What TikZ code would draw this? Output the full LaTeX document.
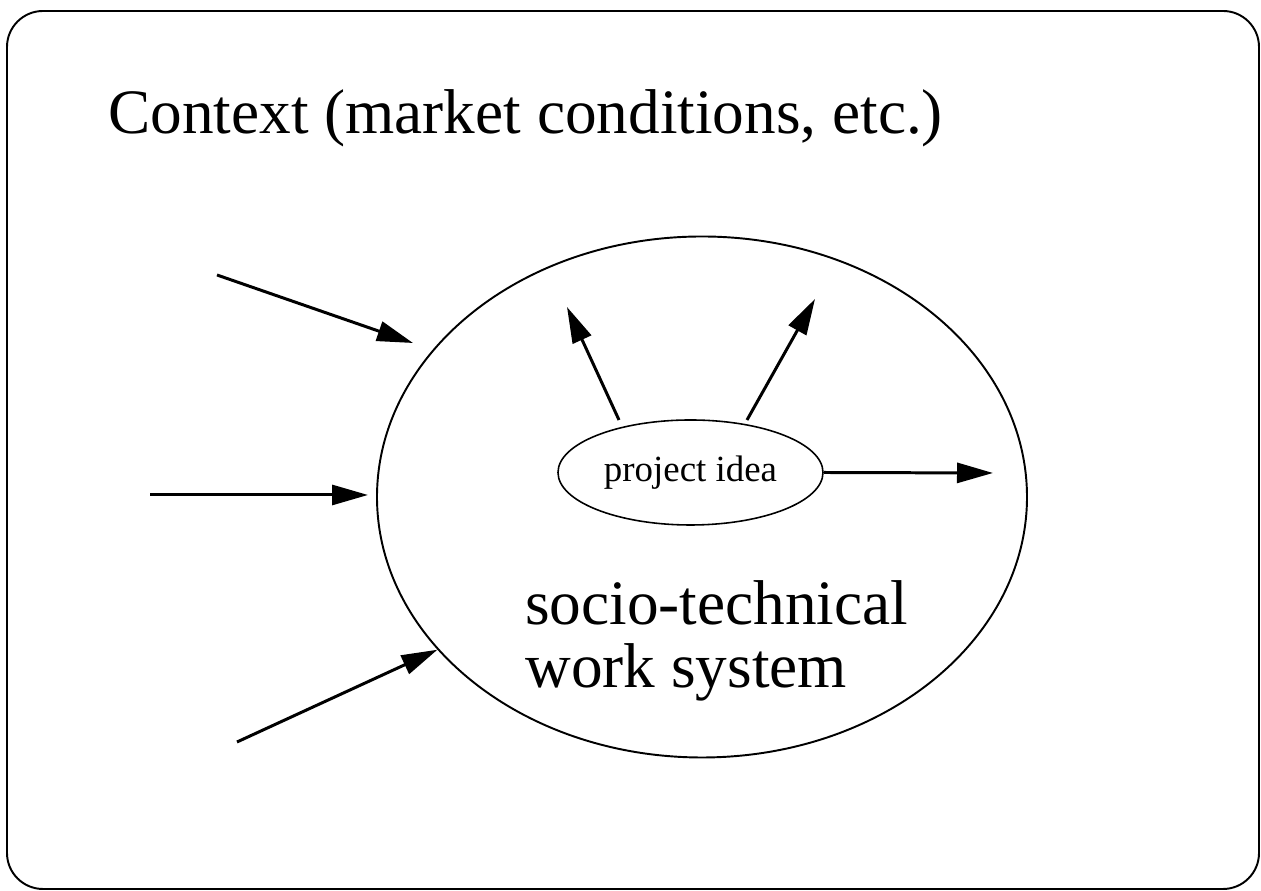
\documentclass[tikz,border=0pt]{standalone}
\usepackage{fontspec}
\setmainfont{Liberation Serif}
\usetikzlibrary{arrows.meta,shapes.geometric}
\begin{document}
\begin{tikzpicture}[
  arr/.style={line width=1.7pt,-{Triangle[length=0.72cm,width=0.4cm]}},
  blob/.style={draw,ellipse,inner sep=0pt}]
 \useasboundingbox (0,0) rectangle (25.22,17.82);
 \draw[line width=1.1pt,rounded corners=0.72cm] (0.14,0.04) rectangle (25.18,17.6);

 \node (ctx)[anchor=base west,inner sep=0pt,font=\fontsize{36}{40}\selectfont] at (2.16,15.14) {Context (market conditions, etc.)};
 \node (sys)[blob,line width=1.1pt,minimum width=13cm,minimum height=10.42cm] at (14.04,7.88) {};
 \node (idea)[blob,line width=0.9pt,minimum width=5.3cm,minimum height=2.1cm,font=\fontsize{21}{25}\selectfont] at (13.81,8.37) {project idea\hspace{0.2cm}};
 \node (name)[anchor=base west,align=left,inner sep=0pt,font=\fontsize{36}{35.85}\selectfont] at (10.5,4.06) {socio-technical\\work system};

 % influences from the context
 \coordinate (in1) at (4.34,12.32);
 \coordinate (hit1) at (8.26,10.96);
 \coordinate (in2) at (3.0,7.92);
 \coordinate (hit2) at (7.36,7.92);
 \coordinate (in3) at (4.74,2.98);
 \draw[arr] (in1) -- (hit1);
 \draw[arr] (in2) -- (hit2);
 \draw[arr] (in3) -- (sys.210);

 % outcomes of the idea
 \coordinate (up1) at (12.38,9.42);
 \coordinate (out1) at (11.34,11.68);
 \coordinate (up2) at (14.94,9.42);
 \coordinate (out2) at (16.3,11.84);
 \coordinate (out3) at (19.86,8.36);
 \draw[arr] (up1) -- (out1);
 \draw[arr] (up2) -- (out2);
 \draw[arr] (idea.east) -- (out3);
\end{tikzpicture}
\end{document}
